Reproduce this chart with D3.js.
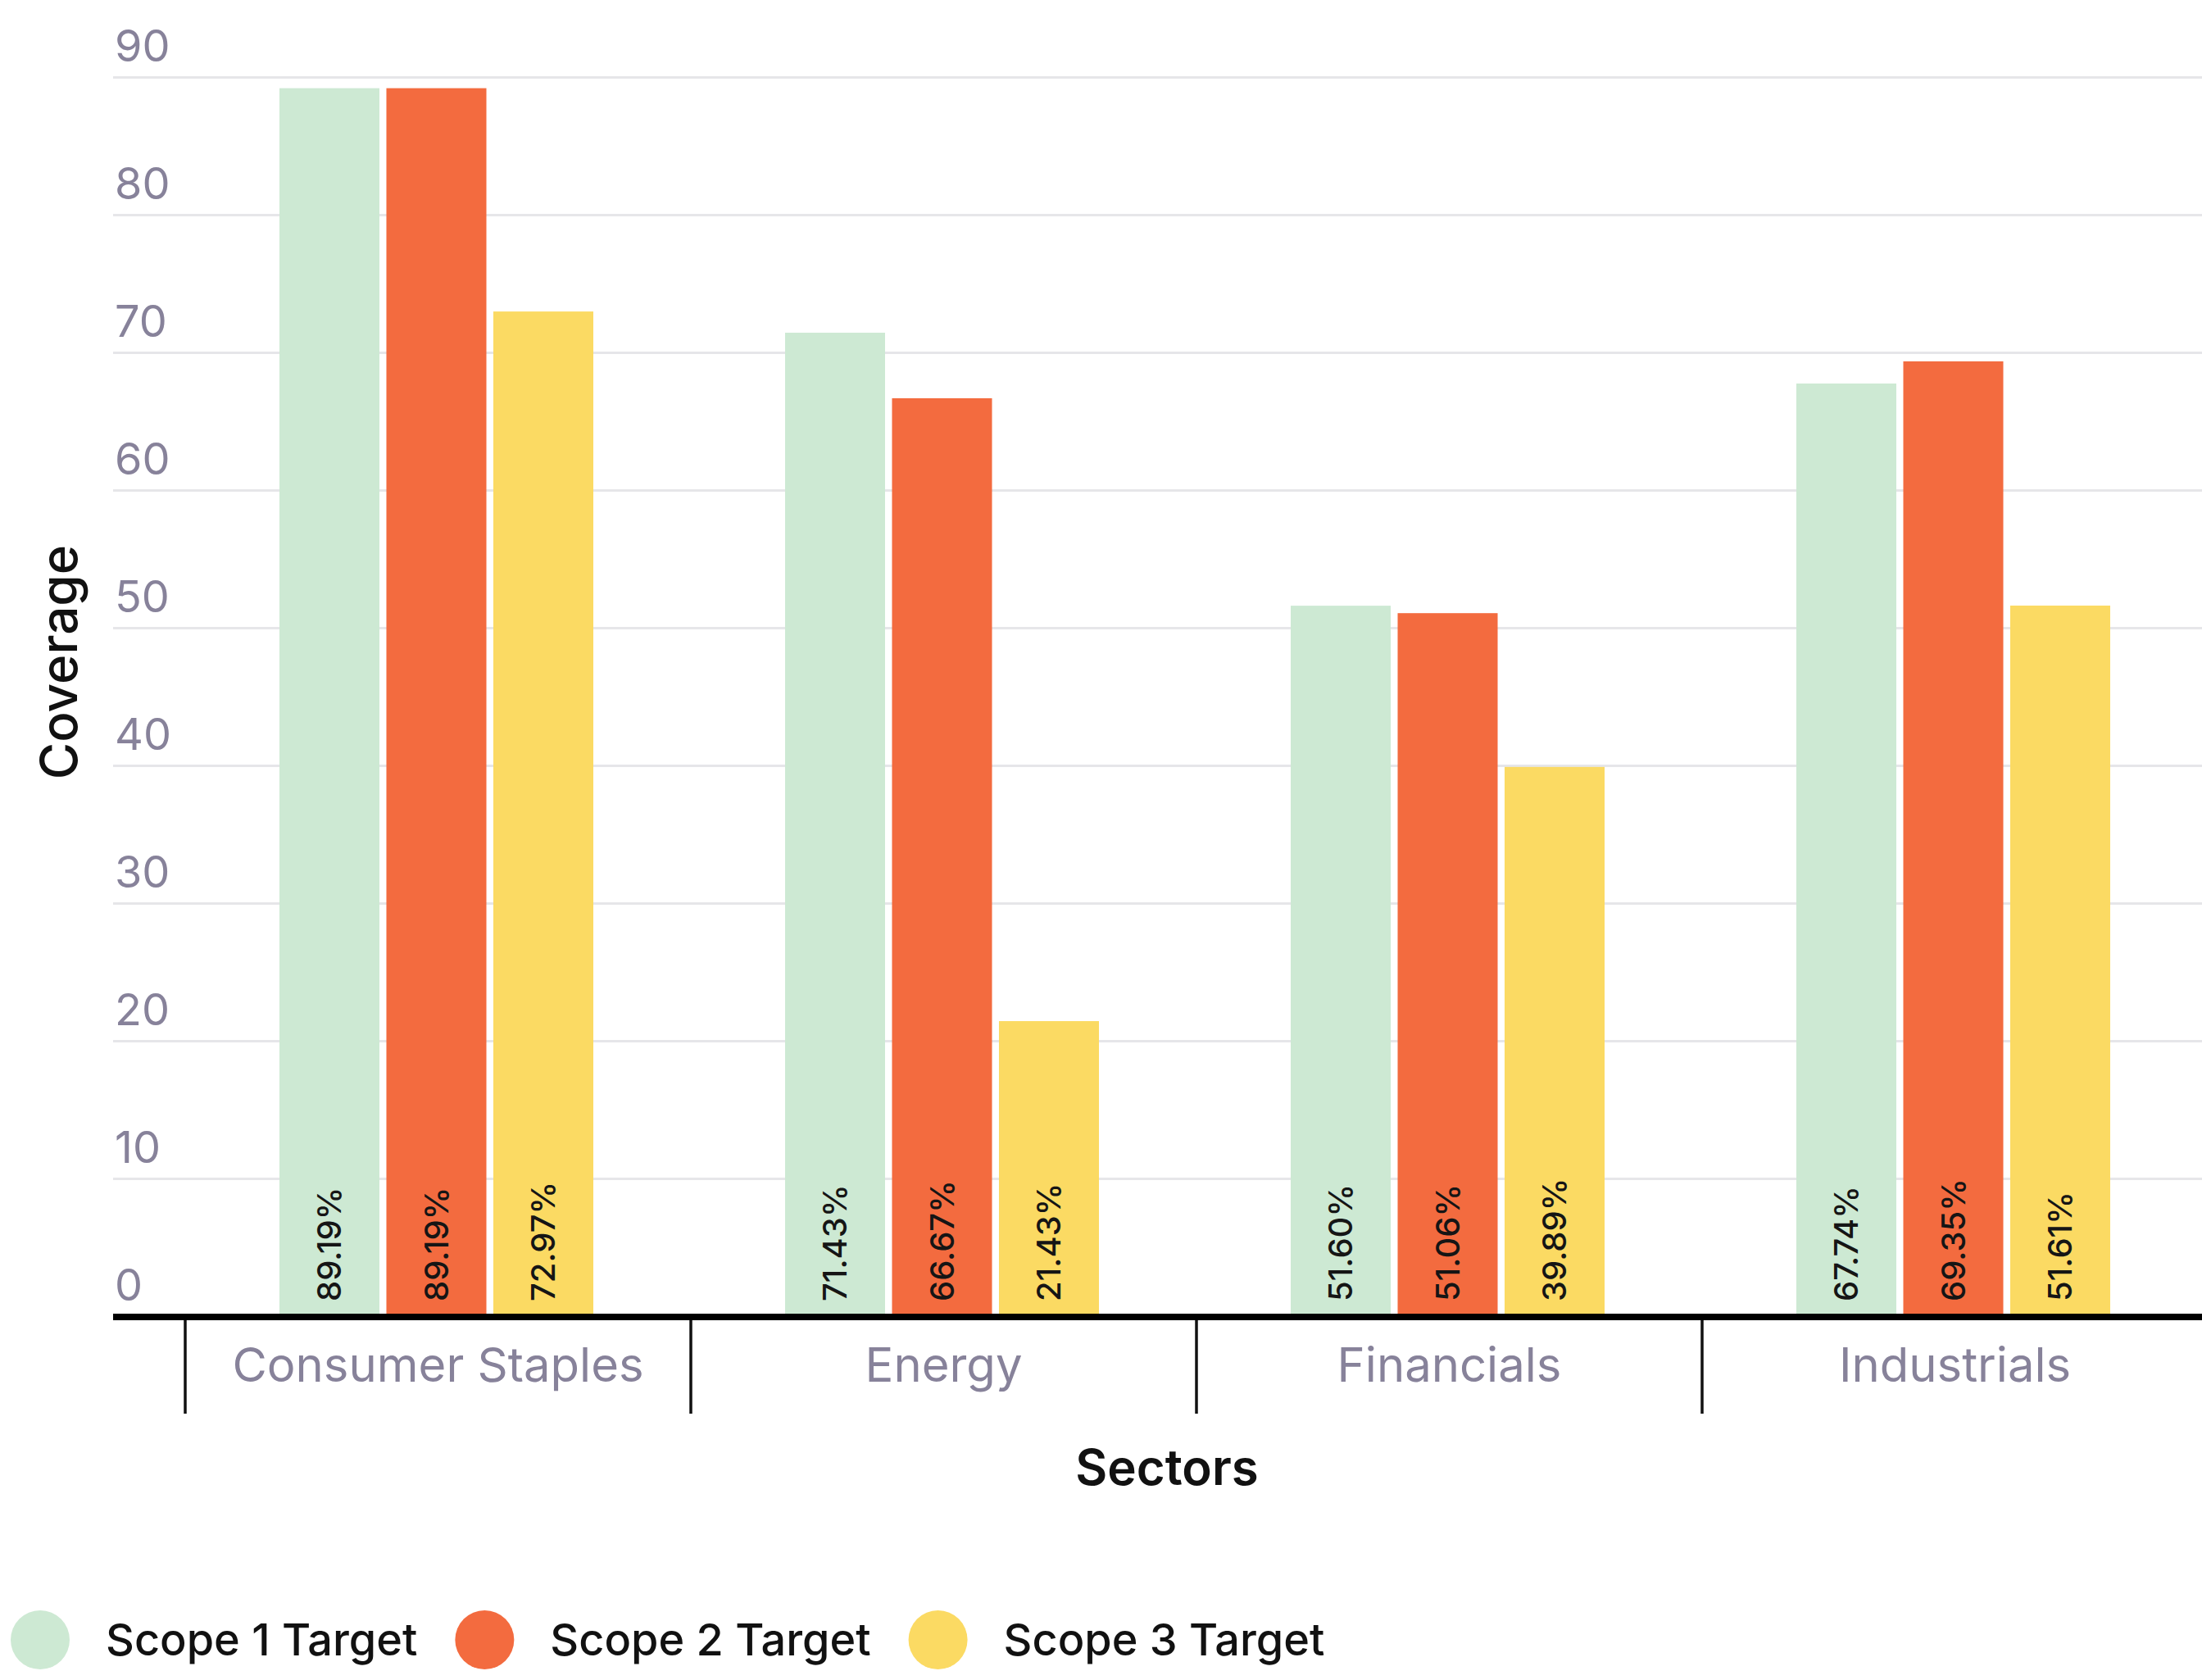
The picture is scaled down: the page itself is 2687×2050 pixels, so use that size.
<!DOCTYPE html>
<html>
<head>
<meta charset="utf-8">
<script src="https://cdn.jsdelivr.net/npm/d3@7"></script>
<style>
  body { margin: 0; background: #fff; }
  text { font-family: Inter, "Noto Sans", sans-serif; }
</style>
</head>
<body>
<div id="chart"></div>
<script>
// data
var sectors = ["Consumer Staples", "Energy", "Financials", "Industrials"];
var seriesNames = ["Scope 1 Target", "Scope 2 Target", "Scope 3 Target"];
var scope1 = [89.19, 71.43, 51.60, 67.74];
var scope2 = [89.19, 66.67, 51.06, 69.35];
var scope3 = [72.97, 21.43, 39.89, 51.61];
var yTicks = [0, 10, 20, 30, 40, 50, 60, 70, 80, 90];
var colors = ["#cde9d3", "#f36b3f", "#fbda63"];

var svgWidth = 2687;
var svgHeight = 2050;

var svg = d3.select("#chart")
  .append("svg")
  .attr("width", svgWidth)
  .attr("height", svgHeight);

var gridLeft = 138;
var bandStart = 226;
var bandWidth = 617;
var y0 = 1606;

var allSeries = [scope1, scope2, scope3];
var rows = sectors.map(function (s, i) {
  return {
    sector: s,
    values: seriesNames.map(function (n, j) { return { name: n, value: allSeries[j][i], idx: j }; })
  };
});

// scales
var x0 = d3.scaleBand()
  .domain(sectors)
  .range([bandStart, bandStart + bandWidth * sectors.length])
  .padding(0);

var x1 = d3.scaleBand()
  .domain(seriesNames)
  .range([115, 498])
  .paddingInner(0.065);

var yScale = d3.scaleLinear()
  .domain([0, 90])
  .range([y0, 94]);

// y axis with gridlines
var yAxis = d3.axisRight(yScale)
  .tickValues(yTicks)
  .tickSize(svgWidth - gridLeft)
  .tickFormat(d3.format("d"));

var yG = svg.append("g")
  .attr("transform", `translate(${gridLeft}, 0)`)
  .call(yAxis);

yG.select(".domain").remove();
yG.selectAll(".tick line")
  .attr("stroke", "#e6e6e9")
  .attr("stroke-width", 3);
yG.selectAll(".tick text")
  .attr("x", 2)
  .attr("dy", -20)
  .attr("text-anchor", "start")
  .attr("fill", "#87829a")
  .attr("font-size", 54)
  .attr("font-family", "Inter, 'Noto Sans', sans-serif");

// bars
var groups = svg.selectAll(".group")
  .data(rows)
  .enter()
  .append("g")
  .attr("class", "group")
  .attr("transform", d => `translate(${x0(d.sector)}, 0)`);

groups.selectAll("rect")
  .data(d => d.values)
  .enter()
  .append("rect")
  .attr("x", d => x1(d.name))
  .attr("y", d => yScale(d.value))
  .attr("width", x1.bandwidth())
  .attr("height", d => y0 - yScale(d.value))
  .style("fill", d => colors[d.idx]);

groups.selectAll(".val")
  .data(d => d.values)
  .enter()
  .append("text")
  .attr("class", "val")
  .attr("transform", d => `translate(${x1(d.name) + x1.bandwidth() / 2 + 14}, ${y0 - 18}) rotate(-90)`)
  .attr("text-anchor", "start")
  .attr("font-size", 40)
  .attr("font-weight", 500)
  .attr("fill", "#151515")
  .text(d => d.value.toFixed(2) + "%");

// x axis
var xAxis = d3.axisBottom(x0).tickSize(0);
var xG = svg.append("g")
  .attr("transform", `translate(0, ${y0 + 1})`)
  .call(xAxis);
xG.select(".domain").remove();
xG.selectAll(".tick text")
  .attr("y", 79)
  .attr("dy", 0)
  .attr("fill", "#87829a")
  .attr("font-size", 58)
  .attr("font-family", "Inter, 'Noto Sans', sans-serif");

xG.selectAll(".sep")
  .data(sectors)
  .enter()
  .append("line")
  .attr("class", "sep")
  .attr("x1", d => x0(d))
  .attr("x2", d => x0(d))
  .attr("y1", 0)
  .attr("y2", 118)
  .attr("stroke", "#111")
  .attr("stroke-width", 3.5);

xG.append("line")
  .attr("x1", gridLeft)
  .attr("x2", svgWidth)
  .attr("y1", 0)
  .attr("y2", 0)
  .attr("stroke", "#000")
  .attr("stroke-width", 8);

// axis titles
svg.append("text")
  .attr("x", 1424)
  .attr("y", 1812)
  .attr("text-anchor", "middle")
  .attr("font-size", 60)
  .attr("font-weight", 600)
  .attr("fill", "#111")
  .text("Sectors");

svg.append("text")
  .attr("transform", "translate(94, 808) rotate(-90)")
  .attr("text-anchor", "middle")
  .attr("font-size", 62)
  .attr("font-weight", 500)
  .attr("fill", "#111")
  .text("Coverage");

// legend
var legend = svg.append("g").attr("transform", "translate(0, 2001)");
var lx = 49;
seriesNames.forEach(function (name, i) {
  legend.append("circle")
    .attr("cx", lx)
    .attr("cy", 0)
    .attr("r", 36)
    .style("fill", colors[i]);
  var t = legend.append("text")
    .attr("x", lx + 80)
    .attr("y", 19)
    .attr("font-size", 54)
    .attr("font-weight", 500)
    .attr("fill", "#111")
    .text(name);
  lx = lx + 80 + t.node().getComputedTextLength() + 82;
});
</script>
</body>
</html>
